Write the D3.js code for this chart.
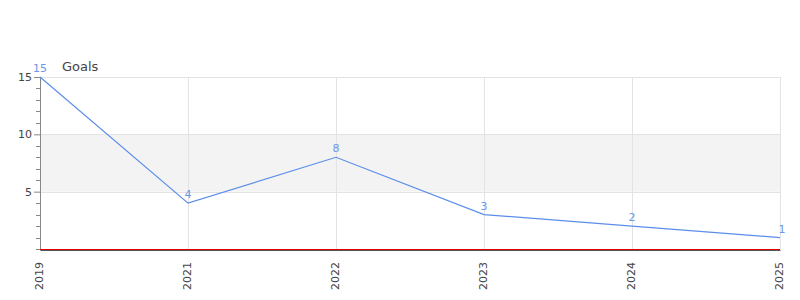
<!DOCTYPE html>
<html>
<head>
<meta charset="utf-8">
<script src="https://cdn.jsdelivr.net/npm/d3@7"></script>
<style>
  body { margin: 0; background: #fff; }
  text { font-family: "DejaVu Sans", sans-serif; }
</style>
</head>
<body>
<div id="chart"></div>
<script>
var years = ["2019", "2021", "2022", "2023", "2024", "2025"];
var goals = [15, 4, 8, 3, 2, 1];
var yTicks = [5, 10, 15];

var svgWidth = 800;
var svgHeight = 300;
var margin = { top: 77, right: 20, bottom: 51, left: 40 };
var width = svgWidth - margin.left - margin.right;
var height = svgHeight - margin.top - margin.bottom;

var svg = d3.select("#chart")
    .append("svg")
    .attr("width", svgWidth)
    .attr("height", svgHeight);

var chartGroup = svg.append("g")
    .attr("transform", `translate(${margin.left}, ${margin.top})`);

// scales
var xScale = d3.scalePoint()
    .domain(years)
    .range([0, width]);
var yScale = d3.scaleLinear()
    .domain([0, 15])
    .range([height, 0]);

// shaded band between 5 and 10
chartGroup.append("rect")
    .attr("x", 0)
    .attr("y", yScale(10))
    .attr("width", width)
    .attr("height", yScale(5) - yScale(10))
    .attr("fill", "#f3f3f3");

// grid lines
chartGroup.selectAll(".hgrid")
    .data(yTicks)
    .enter()
    .append("line")
    .attr("x1", 0)
    .attr("x2", width)
    .attr("y1", d => Math.round(yScale(d)) + 0.5)
    .attr("y2", d => Math.round(yScale(d)) + 0.5)
    .attr("stroke", "#e3e3e3");

chartGroup.selectAll(".vgrid")
    .data(years)
    .enter()
    .append("line")
    .attr("x1", d => Math.round(xScale(d)) + 0.5)
    .attr("x2", d => Math.round(xScale(d)) + 0.5)
    .attr("y1", 0)
    .attr("y2", height)
    .attr("stroke", "#e3e3e3");

// y axis
var leftAxis = d3.axisLeft(yScale)
    .tickValues(yTicks)
    .tickSize(6)
    .tickSizeOuter(0);
var yAxis = chartGroup.append("g").call(leftAxis);
yAxis.select(".domain").attr("stroke", "#888");
yAxis.selectAll(".tick line").attr("stroke", "#888");
yAxis.selectAll("text")
    .attr("fill", "#444")
    .style("font-size", "11px")
    .attr("x", -8);

// minor ticks
chartGroup.selectAll(".minor")
    .data(d3.range(0, 16).filter(v => yTicks.indexOf(v) < 0))
    .enter()
    .append("line")
    .attr("x1", -4)
    .attr("x2", 0)
    .attr("y1", d => Math.round(yScale(d)) + 0.5)
    .attr("y2", d => Math.round(yScale(d)) + 0.5)
    .attr("stroke", "#888");

// x axis
var bottomAxis = d3.axisBottom(xScale).tickSize(0).tickSizeOuter(0);
var xAxis = chartGroup.append("g")
    .attr("transform", `translate(0,${height + 1})`)
    .call(bottomAxis);
xAxis.select(".domain").attr("stroke", "#555");
xAxis.selectAll("text")
    .attr("fill", "#444")
    .style("font-size", "11px")
    .attr("transform", "rotate(-90)")
    .attr("text-anchor", "end")
    .attr("x", -12)
    .attr("y", -1)
    .attr("dy", "0.35em");

// zero line
chartGroup.append("line")
    .attr("x1", 0)
    .attr("x2", width)
    .attr("y1", yScale(0) + 0.5)
    .attr("y2", yScale(0) + 0.5)
    .attr("stroke", "#e00000");

// line
var line = d3.line()
    .x((d, i) => xScale(years[i]))
    .y(d => yScale(d));

chartGroup.append("path")
    .datum(goals)
    .attr("d", line)
    .attr("fill", "none")
    .attr("stroke", "#5b8dea")
    .attr("stroke-width", 1.2);

// data labels
chartGroup.selectAll(".label")
    .data(goals)
    .enter()
    .append("text")
    .attr("x", (d, i) => xScale(years[i]) - (i === years.length - 1 ? -2 : 0))
    .attr("y", d => yScale(d) - 5)
    .attr("text-anchor", "middle")
    .attr("fill", "#6b95e6")
    .style("font-size", "11px")
    .text(d => d);

// title
chartGroup.append("text")
    .attr("x", 22)
    .attr("y", -6)
    .attr("fill", "#444")
    .style("font-size", "13px")
    .text("Goals");
</script>
</body>
</html>
